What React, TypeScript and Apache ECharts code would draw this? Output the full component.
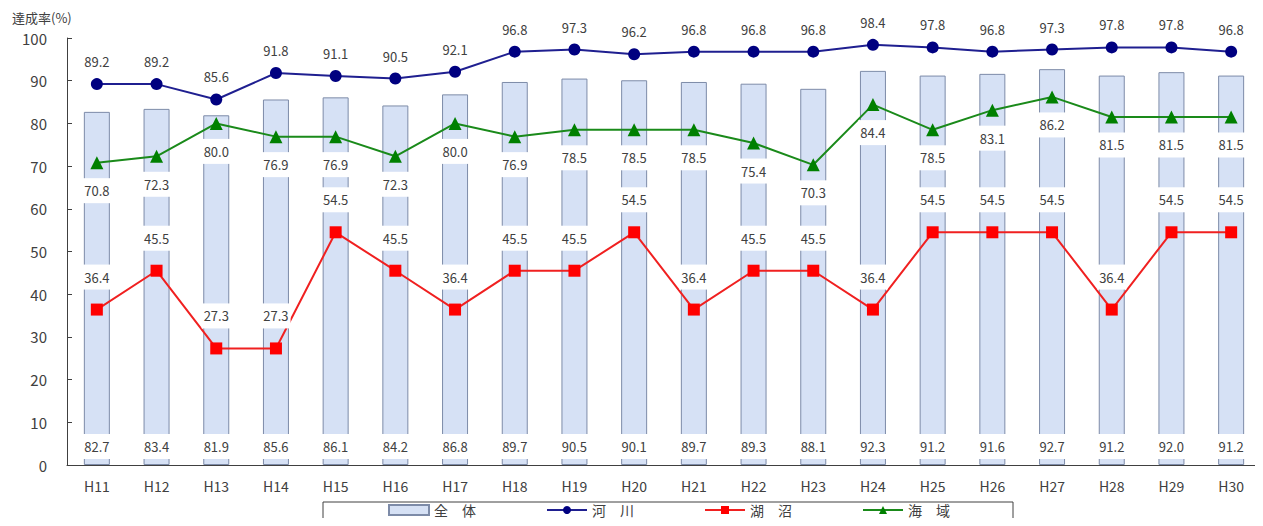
import React, { useEffect, useRef } from "react";
import * as echarts from "echarts";

const categories = ["H11","H12","H13","H14","H15","H16","H17","H18","H19","H20","H21","H22","H23","H24","H25","H26","H27","H28","H29","H30"];
const overall = [82.7,83.4,81.9,85.6,86.1,84.2,86.8,89.7,90.5,90.1,89.7,89.3,88.1,92.3,91.2,91.6,92.7,91.2,92.0,91.2];
const river = [89.2,89.2,85.6,91.8,91.1,90.5,92.1,96.8,97.3,96.2,96.8,96.8,96.8,98.4,97.8,96.8,97.3,97.8,97.8,96.8];
const lake = [36.4,45.5,27.3,27.3,54.5,45.5,36.4,45.5,45.5,54.5,36.4,45.5,45.5,36.4,54.5,54.5,54.5,36.4,54.5,54.5];
const sea = [70.8,72.3,80.0,76.9,76.9,72.3,80.0,76.9,78.5,78.5,78.5,75.4,70.3,84.4,78.5,83.1,86.2,81.5,81.5,81.5];
const yTicks = [0,10,20,30,40,50,60,70,80,90,100];

const FONT = "'Noto Sans CJK JP', 'Noto Sans', sans-serif";
const TXT = "#404040";

export default function App() {
  const ref = useRef<HTMLDivElement>(null);
  useEffect(() => {
    if (!ref.current) return;
    const chart = echarts.init(ref.current, null, { renderer: "svg" });
    const lbl = (pos: string, dist: number) => ({
      show: true,
      position: pos,
      distance: dist,
      color: TXT,
      fontSize: 13,
      fontFamily: FONT,
      backgroundColor: "#ffffff",
      padding: [6, 2],
      formatter: (p: any) => Number(p.value).toFixed(1),
    });
    chart.setOption({
      animation: false,
      textStyle: { fontFamily: FONT },
      grid: { left: 67, right: 2, top: 38, bottom: 61, containLabel: false },
      graphic: [
        { type: "text", left: 12, top: 11, style: { text: "達成率(%)", fontSize: 13, fill: TXT, fontFamily: FONT } },
        { type: "rect", shape: { x: 323, y: 502, width: 690, height: 40 }, style: { fill: "none", stroke: "#404040", lineWidth: 1 } },
      ],
      legend: {
        left: 383,
        top: 500,
        padding: [3, 5],
        itemWidth: 40,
        itemHeight: 10,
        itemGap: 70,
        textStyle: { fontSize: 14, color: TXT, fontFamily: FONT },
        data: [
          { name: "全　体", icon: "rect" },
          { name: "河　川" },
          { name: "湖　沼" },
          { name: "海　域" },
        ],
      },
      xAxis: {
        type: "category",
        data: categories,
        axisLine: { lineStyle: { color: "#404040", width: 1 } },
        axisTick: { inside: true, length: 5, lineStyle: { color: "#404040" } },
        axisLabel: { color: TXT, fontSize: 14, fontFamily: FONT, margin: 14 },
      },
      yAxis: {
        type: "value",
        min: yTicks[0],
        max: yTicks[yTicks.length - 1],
        interval: 10,
        splitLine: { show: false },
        axisLine: { show: true, lineStyle: { color: "#404040", width: 1 } },
        axisTick: { show: true, inside: true, length: 5, lineStyle: { color: "#404040" } },
        axisLabel: { color: TXT, fontSize: 15, fontFamily: FONT, margin: 20 },
      },
      series: [
        {
          name: "全　体",
          type: "bar",
          data: overall,
          barWidth: 26,
          itemStyle: { color: "#d6e1f5", borderColor: "#7d8ba8", borderWidth: 1 },
          label: lbl("insideBottom", 6),
        },
        {
          name: "河　川",
          type: "line",
          data: river,
          symbol: "circle",
          symbolSize: 12,
          itemStyle: { color: "#000080" },
          lineStyle: { color: "#1f1f90", width: 2 },
          label: lbl("top", 4),
        },
        {
          name: "湖　沼",
          type: "line",
          data: lake,
          symbol: "rect",
          symbolSize: 12,
          itemStyle: { color: "#ff0000" },
          lineStyle: { color: "#f02020", width: 2 },
          label: lbl("top", 14),
        },
        {
          name: "海　域",
          type: "line",
          data: sea,
          symbol: "triangle",
          symbolSize: 13,
          itemStyle: { color: "#008000" },
          lineStyle: { color: "#1a8a1a", width: 2 },
          label: lbl("bottom", 9),
        },
      ],
    });
    return () => chart.dispose();
  }, []);
  return <div ref={ref} style={{ width: 1263, height: 526, margin: -8 }} />;
}
